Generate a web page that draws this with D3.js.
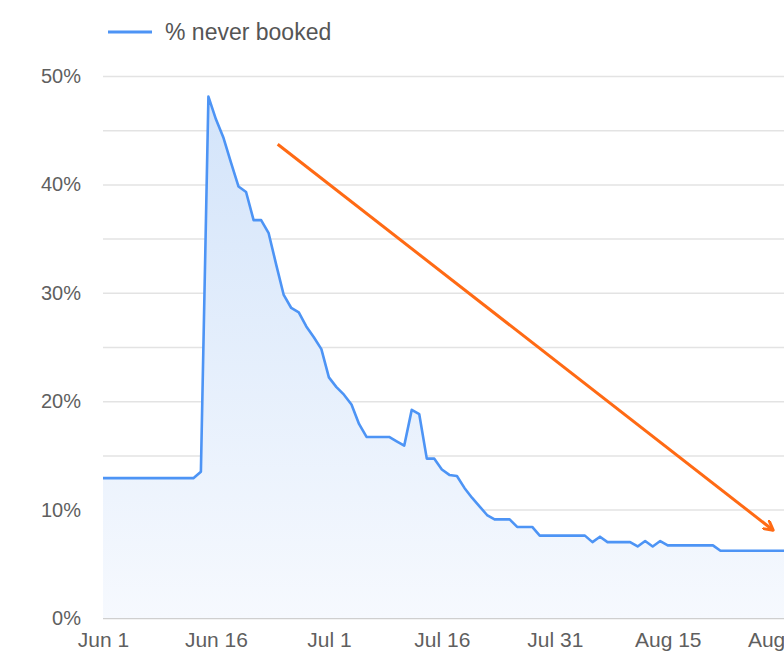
<!DOCTYPE html>
<html>
<head>
<meta charset="utf-8">
<script src="https://cdn.jsdelivr.net/npm/d3@7"></script>
<style>
  body { margin: 0; background: #fff; }
  text { font-family: "Liberation Sans", Arial, sans-serif; }
</style>
</head>
<body>
<div id="chart"></div>
<script>
// % of users that never booked, one value per day starting Jun 1
const startDate = new Date(2019, 5, 1);
const neverBooked = [
  12.9, 12.9, 12.9, 12.9, 12.9, 12.9, 12.9, 12.9, 12.9, 12.9, 12.9, 12.9, 12.9,
  13.5, 48.1, 46.0, 44.3, 42.0, 39.8, 39.3, 36.7, 36.7, 35.5, 32.6, 29.8,
  28.6, 28.2, 26.9, 25.9, 24.8, 22.2, 21.3, 20.6, 19.7, 17.9, 16.7, 16.7,
  16.7, 16.7, 16.3, 15.9, 19.2, 18.8, 14.7, 14.7, 13.7, 13.2, 13.1, 12.0,
  11.1, 10.3, 9.5, 9.1, 9.1, 9.1, 8.4, 8.4, 8.4, 7.6, 7.6, 7.6, 7.6, 7.6,
  7.6, 7.6, 7.0, 7.5, 7.0, 7.0, 7.0, 7.0, 6.6, 7.1, 6.6, 7.1, 6.7, 6.7,
  6.7, 6.7, 6.7, 6.7, 6.7, 6.2, 6.2, 6.2, 6.2, 6.2, 6.2, 6.2, 6.2, 6.2, 6.2
];
const xTickLabels = ["Jun 1", "Jun 16", "Jul 1", "Jul 16", "Jul 31", "Aug 15", "Aug 30"];
const yTickValues = [0, 10, 20, 30, 40, 50];
const gridValues = [0, 5, 10, 15, 20, 25, 30, 35, 40, 45, 50];
const seriesName = "% never booked";
// trend arrow drawn on top: [day index, percent]
const trendStart = [23.2, 43.7];
const trendEnd = [89, 8.1];

const dayMs = 24 * 3600 * 1000;
const data = neverBooked.map((v, i) => ({ date: new Date(startDate.getTime() + i * dayMs), value: v }));
const xTickDates = xTickLabels.map((d, i) => new Date(startDate.getTime() + i * 15 * dayMs));

var width = 784, height = 652;
var margin = { top: 76, left: 103, bottom: 34 };

var svg = d3.select("#chart")
  .append("svg")
  .attr("width", width)
  .attr("height", height);

var x = d3.scaleTime()
  .domain([startDate, xTickDates[6]])
  .range([margin.left, 780.7]);

var y = d3.scaleLinear()
  .domain([0, 50])
  .range([height - margin.bottom, margin.top]);

// gradient for the area under the line
var defs = svg.append("defs");
var grad = defs.append("linearGradient")
  .attr("id", "areaFill")
  .attr("gradientUnits", "userSpaceOnUse")
  .attr("x1", 0).attr("x2", 0)
  .attr("y1", y(48)).attr("y2", y(0));
grad.append("stop").attr("offset", "0%").attr("stop-color", "#d3e4fa");
grad.append("stop").attr("offset", "100%").attr("stop-color", "#f6f9fe");

defs.append("marker")
  .attr("id", "arrowHead")
  .attr("viewBox", "0 0 12 12")
  .attr("refX", 10).attr("refY", 6)
  .attr("markerWidth", 12).attr("markerHeight", 12)
  .attr("markerUnits", "userSpaceOnUse")
  .attr("orient", "auto")
  .append("path")
  .attr("d", "M1,1 L10,6 L1,11")
  .attr("fill", "none")
  .attr("stroke", "#ff6a14")
  .attr("stroke-width", 3)
  .attr("stroke-linecap", "round")
  .attr("stroke-linejoin", "round");

// horizontal grid lines
svg.append("g")
  .attr("transform", "translate(" + margin.left + ",0)")
  .call(d3.axisRight(y).tickValues(gridValues).tickSize(width - margin.left).tickFormat(""))
  .call(g => g.select(".domain").remove())
  .call(g => g.selectAll("line").attr("stroke", d => d === 0 ? "#cfcfcf" : "#e3e3e3").attr("stroke-width", 1.5));

// area + line
svg.append("path")
  .datum(data)
  .attr("fill", "url(#areaFill)")
  .attr("d", d3.area()
    .x(d => x(d.date))
    .y0(y(0))
    .y1(d => y(d.value)));

svg.append("path")
  .datum(data)
  .attr("fill", "none")
  .attr("stroke", "#4d94f5")
  .attr("stroke-width", 2.6)
  .attr("stroke-linejoin", "round")
  .attr("d", d3.line()
    .x(d => x(d.date))
    .y(d => y(d.value)));

// Y axis labels
svg.append("g")
  .attr("transform", "translate(" + margin.left + ",0)")
  .call(d3.axisLeft(y).tickValues(yTickValues).tickSize(0).tickPadding(22).tickFormat(d => d + "%"))
  .call(g => g.select(".domain").remove())
  .selectAll("text")
  .attr("fill", "#5f5f5f")
  .style("font-size", "20px");

// X axis labels
svg.append("g")
  .attr("transform", "translate(0," + y(0) + ")")
  .call(d3.axisBottom(x).tickValues(xTickDates).tickSize(0).tickPadding(14).tickFormat((d, i) => xTickLabels[i]))
  .call(g => g.select(".domain").remove())
  .selectAll("text")
  .attr("fill", "#5f5f5f")
  .style("font-size", "21px");

// legend
svg.append("line")
  .attr("x1", 108).attr("x2", 152)
  .attr("y1", 32).attr("y2", 32)
  .attr("stroke", "#4d94f5")
  .attr("stroke-width", 3);
svg.append("text")
  .attr("x", 165).attr("y", 32)
  .attr("dy", "0.35em")
  .attr("fill", "#555")
  .style("font-size", "23px")
  .text(seriesName);

// trend arrow
svg.append("line")
  .attr("x1", x(new Date(startDate.getTime() + trendStart[0] * dayMs)))
  .attr("y1", y(trendStart[1]))
  .attr("x2", x(new Date(startDate.getTime() + trendEnd[0] * dayMs)))
  .attr("y2", y(trendEnd[1]))
  .attr("stroke", "#ff6a14")
  .attr("stroke-width", 3)
  .attr("marker-end", "url(#arrowHead)");
</script>
</body>
</html>
